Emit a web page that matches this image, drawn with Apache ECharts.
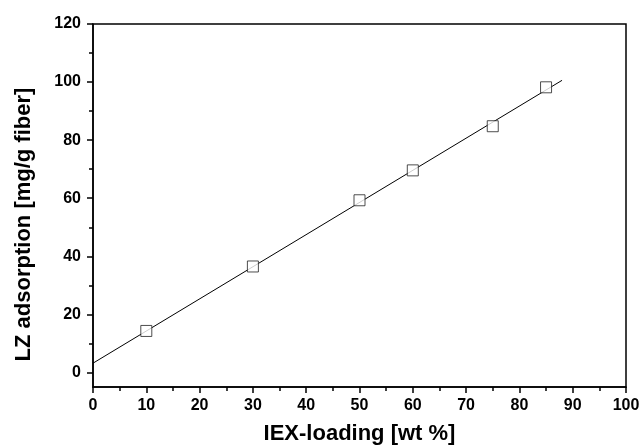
<!DOCTYPE html>
<html><head><meta charset="utf-8">
<script src="https://cdn.jsdelivr.net/npm/echarts@6/dist/echarts.min.js"></script>
<style>html,body{margin:0;padding:0;background:#fff}#c{width:640px;height:447px}</style>
</head><body><div id="c"></div>
<script>
const loading = [10, 30, 50, 60, 75, 85];
const adsorption = [14.3, 36.5, 59.3, 69.6, 84.8, 98.2];
const fitX = [0, 88];
const fitY = [3.2, 100.6];
const yMajorTicks = [0, 20, 40, 60, 80, 100, 120];
const yMinorTicks = [10, 30, 50, 70, 90, 110];

const chart = echarts.init(document.getElementById('c'));
const font = 'Liberation Sans, Arial, sans-serif';
chart.setOption({
  animation: false,
  grid: {left: 93, top: 24, right: 14, bottom: 60, outerBoundsMode: 'none', containLabel: false, show: true, borderColor: '#000', borderWidth: 1.5, backgroundColor: 'transparent'},
  xAxis: [{
    type: 'value', min: 0, max: 100, interval: 10,
    name: 'IEX-loading [wt %]', nameLocation: 'middle', nameGap: 36,
    nameTextStyle: {fontFamily: font, fontWeight: 'bold', fontSize: 22, color: '#000'},
    axisLine: {show: true, onZero: false, lineStyle: {color: '#000', width: 1.5}},
    axisTick: {show: true, inside: false, length: 6, lineStyle: {color: '#000', width: 1.5}},
    minorTick: {show: true, splitNumber: 2, length: 4, lineStyle: {color: '#000', width: 1.5}},
    axisLabel: {fontFamily: font, fontWeight: 'bold', fontSize: 16, color: '#000', margin: 11},
    splitLine: {show: false}
  }],
  yAxis: [{
    type: 'value', min: -5, max: 120,
    name: 'LZ adsorption [mg/g fiber]', nameLocation: 'middle', nameGap: 58,
    nameTextStyle: {fontFamily: font, fontWeight: 'bold', fontSize: 22, color: '#000', padding: [0, 38, 0, 0]},
    axisLine: {show: true, onZero: false, lineStyle: {color: '#000', width: 1.5}},
    axisTick: {show: true, inside: false, length: 6, customValues: yMajorTicks, lineStyle: {color: '#000', width: 1.5}},
    axisLabel: {fontFamily: font, fontWeight: 'bold', fontSize: 16, color: '#000', margin: 12, customValues: yMajorTicks},
    splitLine: {show: false}
  }, {
    type: 'value', min: -5, max: 120, position: 'left',
    axisLine: {show: false},
    axisTick: {show: true, inside: false, length: 4, customValues: yMinorTicks, lineStyle: {color: '#000', width: 1.5}},
    axisLabel: {show: false, customValues: yMinorTicks},
    splitLine: {show: false}
  }],
  series: [{
    type: 'line', data: fitX.map((x, i) => [x, fitY[i]]),
    showSymbol: false, symbol: 'none', lineStyle: {color: '#000', width: 1}, silent: true
  }, {
    type: 'scatter', data: loading.map((x, i) => [x, adsorption[i]]),
    symbol: 'rect', symbolSize: 11,
    itemStyle: {color: '#fff', borderColor: '#222', borderWidth: 1}, z: 5
  }]
});
</script></body></html>
